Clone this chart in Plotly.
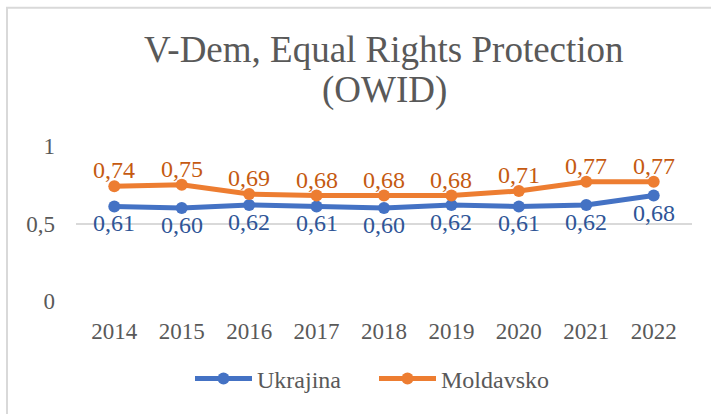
import plotly.graph_objects as go

years = ["2014", "2015", "2016", "2017", "2018", "2019", "2020", "2021", "2022"]
ukrajina = [0.61, 0.60, 0.62, 0.61, 0.60, 0.62, 0.61, 0.62, 0.68]
moldavsko = [0.74, 0.75, 0.69, 0.68, 0.68, 0.68, 0.71, 0.77, 0.77]
y_ticks = [0, 0.5, 1]
y_tick_labels = ["0", "0,5", "1"]
title_lines = ["V-Dem, Equal Rights Protection", "(OWID)"]

FONT = "Liberation Serif"
W, H = 711, 414
L, R, T, B = 76, 19, 146, 111
pw, ph = W - L - R, H - T - B


def fmt(v):
    return f"{v:.2f}".replace(".", ",")


fig = go.Figure()
fig.add_trace(go.Scatter(
    x=years, y=ukrajina, name="Ukrajina", mode="lines+markers",
    line=dict(color="#4472C4", width=5), marker=dict(size=12, color="#4472C4"),
))
fig.add_trace(go.Scatter(
    x=years, y=moldavsko, name="Moldavsko", mode="lines+markers",
    line=dict(color="#ED7D31", width=5), marker=dict(size=12, color="#ED7D31"),
))


def px_to_paper_y(py):
    return (H - B - py) / ph


def px_to_paper_x(px):
    return (px - L) / pw


annotations = [
    dict(text=title_lines[0], x=0.5, xref="paper", y=px_to_paper_y(62), yref="paper",
         xanchor="center", yanchor="bottom", showarrow=False,
         font=dict(family=FONT, size=37, color="#595959"), yshift=-9),
    dict(text=title_lines[1], x=0.5, xref="paper", y=px_to_paper_y(103), yref="paper",
         xanchor="center", yanchor="bottom", showarrow=False,
         font=dict(family=FONT, size=37, color="#595959"), yshift=-9),
]
# data labels: category axis positions are given by category index
for i, v in enumerate(moldavsko):
    annotations.append(dict(text=fmt(v), x=i, y=v, xref="x", yref="y", showarrow=False,
                            xanchor="center", yanchor="middle", yshift=16,
                            font=dict(family=FONT, size=24, color="#C55A11")))
for i, v in enumerate(ukrajina):
    annotations.append(dict(text=fmt(v), x=i, y=v, xref="x", yref="y", showarrow=False,
                            xanchor="center", yanchor="middle", yshift=-17,
                            font=dict(family=FONT, size=24, color="#2F5597")))

fig.update_layout(
    width=W, height=H,
    margin=dict(l=L, r=R, t=T, b=B),
    paper_bgcolor="white", plot_bgcolor="white",
    separators=",.",
    font=dict(family=FONT, size=23, color="#595959"),
    showlegend=True,
    legend=dict(orientation="h", x=px_to_paper_x(190), xanchor="left", y=px_to_paper_y(382), yanchor="middle",
                font=dict(family=FONT, size=24, color="#595959"), itemwidth=57,
                entrywidth=112, entrywidthmode="pixels"),
    annotations=annotations,
    shapes=[
        dict(type="line", xref="paper", yref="paper", x0=px_to_paper_x(7), x1=px_to_paper_x(7),
             y0=px_to_paper_y(6), y1=px_to_paper_y(420), line=dict(color="#D9D9D9", width=2)),
        dict(type="line", xref="paper", yref="paper", x0=px_to_paper_x(6), x1=px_to_paper_x(720),
             y0=px_to_paper_y(6), y1=px_to_paper_y(6), line=dict(color="#D9D9D9", width=2)),
    ],
)
fig.update_xaxes(type="category", showgrid=False, zeroline=False, showline=False, ticks="",
                 tickfont=dict(family=FONT, size=23, color="#595959"), ticklabelstandoff=14)
fig.update_yaxes(range=[0, 1], tickvals=y_ticks, ticktext=y_tick_labels, showgrid=True,
                 gridcolor="#D9D9D9", gridwidth=1.5, zeroline=False, showline=False, ticks="",
                 tickfont=dict(family=FONT, size=23, color="#595959"), ticklabelstandoff=20)

fig.write_html("out.html", config={"displayModeBar": False},
               post_script="document.body.style.margin='0';")
